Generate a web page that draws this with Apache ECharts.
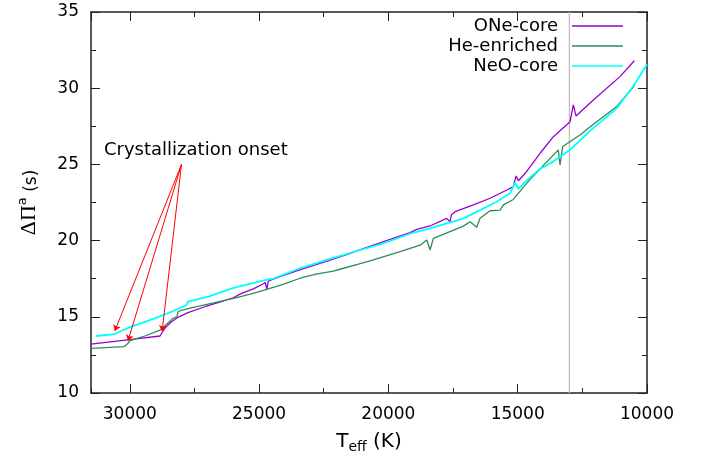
<!DOCTYPE html>
<html>
<head>
<meta charset="utf-8">
<script src="https://cdn.jsdelivr.net/npm/echarts@6/dist/echarts.min.js"></script>
<style>
html,body{margin:0;padding:0;background:#fff;}
#chart{width:702px;height:457px;}
</style>
</head>
<body>
<div id="chart"></div>
<script>
// ONe-core
var oneTeff = [31500, 30000, 28830, 28700, 28620, 28390, 28100, 27750, 27100, 26460, 26000, 25680, 25200, 24850, 24760, 24700, 24640, 24575,
    24000, 23400, 22800, 22255, 21600, 21000, 20320, 19935, 19160, 18900, 18390, 17745, 17615, 17560, 17420, 16715, 16070, 15420, 15170,
    15065, 14975, 14717, 14135, 13620, 12975, 12850, 12745, 12075, 11045, 10490];
var onePeriod = [13.21, 13.50, 13.74, 14.10, 14.30, 14.68, 15.00, 15.27, 15.66, 15.99, 16.25, 16.54, 16.85, 17.15, 17.25, 16.80, 17.35, 17.40,
    17.75, 18.10, 18.42, 18.72, 19.10, 19.45, 19.85, 20.08, 20.52, 20.74, 20.96, 21.46, 21.24, 21.70, 21.90, 22.34, 22.78, 23.32, 23.54,
    24.24, 23.93, 24.40, 25.73, 26.82, 27.80, 28.90, 28.18, 29.23, 30.76, 31.80];

// He-enriched
var heTeff = [31500, 30220, 30065, 29990, 29420, 28830, 28650, 28325, 28250, 28180, 28130, 28050, 27540, 26800, 25990, 25300, 24700, 24050,
    23415, 22800, 22130, 21870, 21160, 20580, 19550, 18775, 18515, 18390, 18260, 17100, 16840, 16585, 16456, 16070, 15680, 15550, 15170,
    14523, 14396, 13430, 13363, 13260, 12590, 12200, 11170, 10490];
var hePeriod = [12.93, 13.04, 13.26, 13.43, 13.74, 14.13, 14.40, 14.90, 14.80, 15.00, 15.33, 15.40, 15.62, 15.90, 16.21, 16.50, 16.80, 17.15,
    17.53, 17.80, 18.00, 18.12, 18.45, 18.73, 19.27, 19.70, 20.04, 19.38, 20.15, 20.95, 21.24, 20.87, 21.46, 21.96, 22.00, 22.34, 22.70,
    24.02, 24.24, 25.95, 24.96, 26.17, 26.93, 27.47, 28.80, 30.15];

// NeO-core
var neoTeff = [31300, 30580, 30300, 29935, 29030, 28390, 27810, 27750, 26970, 25990, 24650, 24450, 24400, 23400, 22255, 21160, 20320, 19160,
    18390, 17100, 16456, 15810, 15300, 15100, 14975, 14650, 14135, 13620, 12975, 12200, 11170, 10530, 10000];
var neoPeriod = [13.74, 13.87, 14.10, 14.35, 14.90, 15.33, 15.77, 15.99, 16.32, 16.90, 17.46, 17.50, 17.62, 18.20, 18.80, 19.35, 19.75, 20.45,
    20.80, 21.46, 22.00, 22.55, 23.10, 23.80, 23.40, 23.95, 24.70, 25.20, 25.95, 27.20, 28.68, 30.15, 31.55];

var xTicks = [10000, 31500];
var yTicks = [10, 35];
var coolLine = 13000;
var onsetFrom = [28000, 25];
var onsetTo = [[30580, 14.07], [30070, 13.42], [28750, 14.05]];

function zip(xs, ys) {
    var out = [];
    for (var i = 0; i < xs.length; i++) {
        out.push([xs[i], ys[i]]);
    }
    return out;
}

var font = 'DejaVu Sans';
var axisColor = '#222';

function xAxisOf(pos, step, len, labels, line) {
    return {
        type: 'value', position: pos, min: xTicks[0], max: xTicks[1], inverse: true, interval: step,
        splitLine: {show: false},
        axisLine: {show: line, onZero: false, lineStyle: {color: axisColor, width: 1.5}},
        axisTick: {inside: true, length: len, lineStyle: {color: axisColor, width: 1}},
        axisLabel: {
            show: labels, showMaxLabel: false, margin: 13, fontSize: 17, fontFamily: font, color: '#000',
            formatter: function (v) { return String(v); }
        }
    };
}
function yAxisOf(pos, labels) {
    return {
        type: 'value', position: pos, min: yTicks[0], max: yTicks[1], interval: 5,
        splitLine: {show: false},
        axisLine: {show: true, onZero: false, lineStyle: {color: axisColor, width: 1.5}},
        axisTick: {inside: true, length: 9, lineStyle: {color: axisColor, width: 1}},
        minorTick: {show: true, splitNumber: 2, length: 5, lineStyle: {color: axisColor, width: 1}},
        axisLabel: {show: labels, margin: 12, fontSize: 17, fontFamily: font, color: '#000'}
    };
}

var xMain = xAxisOf('bottom', 5000, 9, true, true);
xMain.name = '{t|T}{sub|eff}{t| (K)}';
xMain.nameLocation = 'middle';
xMain.nameGap = 39;
xMain.nameTextStyle = {
    rich: {
        t: {fontSize: 20, fontFamily: font, color: '#000', lineHeight: 22, verticalAlign: 'top'},
        sub: {fontSize: 14, fontFamily: font, color: '#000', lineHeight: 12, verticalAlign: 'bottom'}
    }
};

var yMain = yAxisOf('left', true);
yMain.name = '{g|ΔΠ}{s|a}{t| (s)}';
yMain.nameLocation = 'middle';
yMain.nameRotate = 90;
yMain.nameGap = 51;
yMain.nameTextStyle = {
    rich: {
        g: {fontSize: 22, fontFamily: 'Liberation Serif', color: '#000', lineHeight: 24, verticalAlign: 'bottom'},
        s: {fontSize: 13, fontFamily: font, color: '#000', lineHeight: 13, verticalAlign: 'top'},
        t: {fontSize: 17, fontFamily: font, color: '#000', lineHeight: 24, verticalAlign: 'bottom'}
    }
};

var chart = echarts.init(document.getElementById('chart'));
var option = {
    animation: false,
    backgroundColor: '#fff',
    grid: {left: 91, right: 55, top: 12, bottom: 64, outerBoundsMode: 'none'},
    legend: {
        orient: 'vertical', right: 79, top: 16, padding: 0, align: 'right',
        icon: 'rect', itemWidth: 51, itemHeight: 1.6, itemGap: 0, selectedMode: false,
        textStyle: {fontSize: 18, fontFamily: font, color: '#000', lineHeight: 20, padding: [0, 9, 0, 0]},
        data: ['ONe-core', 'He-enriched', 'NeO-core']
    },
    xAxis: [
        xMain,
        xAxisOf('bottom', 2500, 5, false, false),
        xAxisOf('top', 5000, 9, false, true),
        xAxisOf('top', 2500, 5, false, false)
    ],
    yAxis: [yMain, yAxisOf('right', false)],
    graphic: [{
        type: 'text', left: 104, top: 141,
        style: {text: 'Crystallization onset', fontSize: 18, fontFamily: font, fill: '#000'}
    }],
    series: [
        {
            name: 'limit', type: 'line', silent: true, symbol: 'none', z: 1,
            data: [[coolLine, yTicks[0]], [coolLine, yTicks[1]]],
            lineStyle: {color: '#c0c0c0', width: 1.3},
            markLine: {
                silent: true, symbol: ['none', 'arrow'], symbolSize: 6,
                label: {show: false},
                lineStyle: {color: '#ff0000', width: 1, type: 'solid'},
                emphasis: {disabled: true},
                data: onsetTo.map(function (p) {
                    return [{coord: onsetFrom}, {coord: p}];
                })
            }
        },
        {
            name: 'ONe-core', type: 'line', symbol: 'none', showSymbol: false,
            data: zip(oneTeff, onePeriod),
            lineStyle: {color: '#9400d3', width: 1.3}, itemStyle: {color: '#9400d3'}
        },
        {
            name: 'He-enriched', type: 'line', symbol: 'none', showSymbol: false,
            data: zip(heTeff, hePeriod),
            lineStyle: {color: '#2e8b57', width: 1.3}, itemStyle: {color: '#2e8b57'}
        },
        {
            name: 'NeO-core', type: 'line', symbol: 'none', showSymbol: false,
            data: zip(neoTeff, neoPeriod),
            lineStyle: {color: '#00ffff', width: 1.8}, itemStyle: {color: '#00ffff'}
        }
    ]
};
chart.setOption(option);
</script>
</body>
</html>
